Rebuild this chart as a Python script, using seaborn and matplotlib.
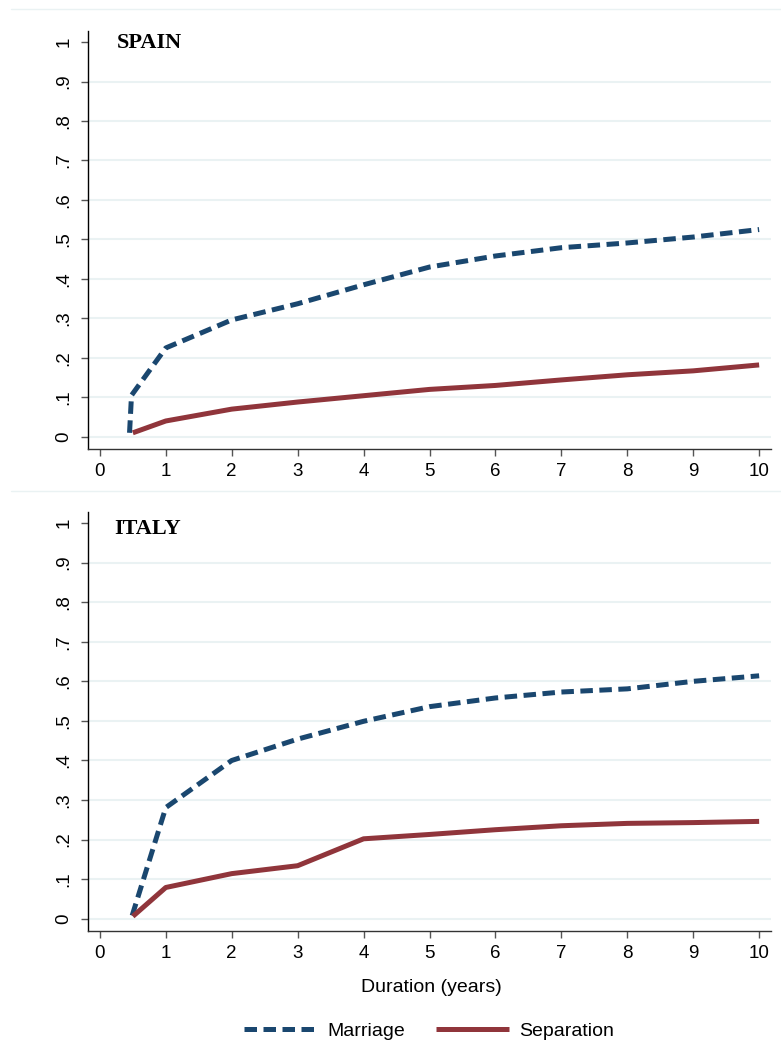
import numpy as np
import pandas as pd
import matplotlib
matplotlib.use("Agg")
import matplotlib.pyplot as plt
from matplotlib.lines import Line2D
import seaborn as sns

# ---- data ----
spain_mar_x = [0.45, 0.48, 1, 2, 3, 4, 5, 6, 7, 8, 9, 10]
spain_mar_y = [0.01, 0.105, 0.225, 0.296, 0.337, 0.385, 0.430, 0.458, 0.479, 0.491, 0.506, 0.525]
spain_sep_x = [0.5, 1, 2, 3, 4, 5, 6, 7, 8, 9, 10]
spain_sep_y = [0.01, 0.04, 0.07, 0.088, 0.104, 0.120, 0.130, 0.144, 0.157, 0.167, 0.182]

italy_mar_x = [0.49, 1, 2, 3, 4, 5, 6, 7, 8, 9, 10]
italy_mar_y = [0.008, 0.281, 0.400, 0.454, 0.499, 0.536, 0.558, 0.573, 0.581, 0.600, 0.614]
italy_sep_x = [0.5, 1, 2, 3, 4, 5, 6, 7, 8, 9, 10]
italy_sep_y = [0.006, 0.079, 0.114, 0.134, 0.202, 0.213, 0.225, 0.235, 0.241, 0.243, 0.246]

series_names = ["Marriage", "Separation"]
panel_titles = ["SPAIN", "ITALY"]
x_ticks = list(range(0, 11))
y_ticks = [0, 0.1, 0.2, 0.3, 0.4, 0.5, 0.6, 0.7, 0.8, 0.9, 1.0]
y_tick_labels = ["0", ".1", ".2", ".3", ".4", ".5", ".6", ".7", ".8", ".9", "1"]

def make_df(mx, my, sx, sy):
    return pd.concat([
        pd.DataFrame({"x": mx, "y": my, "series": "Marriage"}),
        pd.DataFrame({"x": sx, "y": sy, "series": "Separation"}),
    ], ignore_index=True)

dfs = [make_df(spain_mar_x, spain_mar_y, spain_sep_x, spain_sep_y),
       make_df(italy_mar_x, italy_mar_y, italy_sep_x, italy_sep_y)]

# ---- style ----
sns.set_theme(style="white")
plt.rcParams["font.family"] = ["Liberation Sans", "DejaVu Sans"]
plt.rcParams["text.color"] = "#000000"

NAVY = "#1a476f"
MAROON = "#90353b"
GRID = "#eaf2f3"
palette = {"Marriage": NAVY, "Separation": MAROON}
dash_pat = (2.5, 1.3)
dashes = {"Marriage": dash_pat, "Separation": ""}
LW = 3.6

fig = plt.figure(figsize=(7.81, 10.52), dpi=100)
W, H = 781, 1052

def px_axes(left, top, right, bottom):
    return fig.add_axes([left / W, 1 - bottom / H, (right - left) / W, (bottom - top) / H])

axes = [px_axes(88, 31, 771, 449), px_axes(88, 512, 771, 931)]
title_pos = [(0.042, 0.959), (0.038, 0.947)]

for ax, df, title, tp in zip(axes, dfs, panel_titles, title_pos):
    ax.set_facecolor("white")
    sns.lineplot(data=df, x="x", y="y", hue="series", style="series",
                 palette=palette, dashes=dashes, estimator=None, sort=True,
                 linewidth=LW, ax=ax, legend=False)
    for ln in ax.lines:
        ln.set_solid_capstyle("butt")
        ln.set_dash_capstyle("butt")
    ax.set_xlim(-0.18, 10.18)
    ax.set_ylim(-0.031, 1.028)
    ax.set_xticks(x_ticks)
    ax.set_xticklabels([str(t) for t in x_ticks])
    ax.set_yticks(y_ticks)
    ax.set_yticklabels(y_tick_labels, rotation=90, va="center")
    ax.set_xlabel("")
    ax.set_ylabel("")
    for yv in y_ticks[:-1]:
        ax.axhline(yv, color=GRID, linewidth=1.5, zorder=0)
    ax.grid(False)
    for s in ["top", "right"]:
        ax.spines[s].set_visible(False)
    ax.spines["left"].set_color("#000000")
    ax.spines["left"].set_linewidth(1.0)
    ax.spines["bottom"].set_color("#333333")
    ax.spines["bottom"].set_linewidth(1.0)
    ax.tick_params(axis="both", which="major", direction="out", length=5,
                   width=1.0, color="#555555", labelsize=13.5, labelcolor="#000000",
                   bottom=True, left=True)
    ax.tick_params(axis="y", pad=6)
    ax.tick_params(axis="x", pad=5)
    ax.text(tp[0], tp[1], title, transform=ax.transAxes, ha="left", va="baseline",
            fontsize=16, fontweight="bold", color="#000000",
            family=["Liberation Serif", "DejaVu Serif"])

for ypx in [9, 491]:
    fig.add_artist(Line2D([11 / W, 1.0], [1 - ypx / H, 1 - ypx / H],
                          transform=fig.transFigure, color=GRID, linewidth=1.0))

fig.text(431 / W, 1 - 988 / H, "Duration (years)", ha="center", va="center",
         fontsize=14, color="#000000")

handles = [Line2D([], [], color=NAVY, linewidth=LW, dashes=dash_pat, dash_capstyle="butt"),
           Line2D([], [], color=MAROON, linewidth=LW, solid_capstyle="butt")]
leg = fig.legend(handles, series_names, loc="center", bbox_to_anchor=(429 / W, 1 - 1031 / H),
                 ncol=2, frameon=False, fontsize=14, handlelength=3.75, columnspacing=1.6,
                 handletextpad=0.5)
for t in leg.get_texts():
    t.set_color("#000000")

fig.savefig("out.png", dpi=100, facecolor="white")
